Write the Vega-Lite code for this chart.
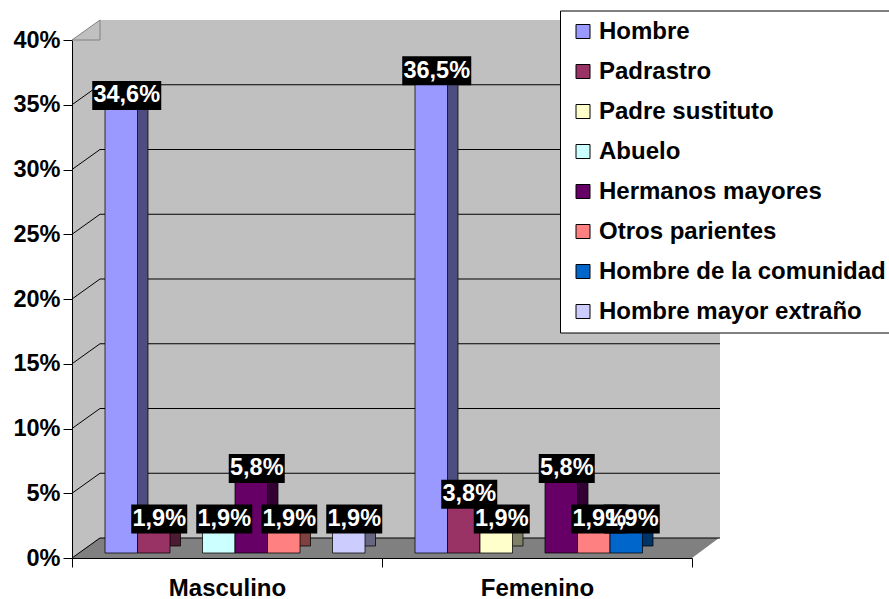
{
  "$schema": "https://vega.github.io/schema/vega-lite/v6.json",
  "width": 620,
  "height": 518,
  "autosize": {"type": "none"},
  "padding": {"left": 72, "top": 40, "right": 197, "bottom": 41},
  "background": "white",
  "config": {
    "view": {"fill": "#C0C0C0", "stroke": null},
    "locale": {"number": {"decimal": ",", "thousands": ".", "grouping": [3], "currency": ["", " €"]}},
    "axis": {"labelFont": "Liberation Sans", "labelFontWeight": "bold", "labelColor": "black", "labelFontSize": 23.5, "domainColor": "black", "tickColor": "black", "grid": false, "title": null, "zindex": 1}
  },
  "datasets": {
    "bars": [
      {"g": "Masculino", "s": "Hombre", "v": 0.346},
      {"g": "Masculino", "s": "Padrastro", "v": 0.019},
      {"g": "Masculino", "s": "Padre sustituto", "v": 0},
      {"g": "Masculino", "s": "Abuelo", "v": 0.019},
      {"g": "Masculino", "s": "Hermanos mayores", "v": 0.058},
      {"g": "Masculino", "s": "Otros parientes", "v": 0.019},
      {"g": "Masculino", "s": "Hombre de la comunidad", "v": 0},
      {"g": "Masculino", "s": "Hombre mayor extraño", "v": 0.019},
      {"g": "Femenino", "s": "Hombre", "v": 0.365},
      {"g": "Femenino", "s": "Padrastro", "v": 0.038},
      {"g": "Femenino", "s": "Padre sustituto", "v": 0.019},
      {"g": "Femenino", "s": "Abuelo", "v": 0},
      {"g": "Femenino", "s": "Hermanos mayores", "v": 0.058},
      {"g": "Femenino", "s": "Otros parientes", "v": 0.019},
      {"g": "Femenino", "s": "Hombre de la comunidad", "v": 0.019},
      {"g": "Femenino", "s": "Hombre mayor extraño", "v": 0}
    ],
    "grid": [
      {"g": "Masculino", "p": 0}, {"g": "Masculino", "p": 0.05}, {"g": "Masculino", "p": 0.1}, {"g": "Masculino", "p": 0.15}, {"g": "Masculino", "p": 0.2}, {"g": "Masculino", "p": 0.25}, {"g": "Masculino", "p": 0.3}, {"g": "Masculino", "p": 0.35},
      {"g": "Femenino", "p": 0}, {"g": "Femenino", "p": 0.05}, {"g": "Femenino", "p": 0.1}, {"g": "Femenino", "p": 0.15}, {"g": "Femenino", "p": 0.2}, {"g": "Femenino", "p": 0.25}, {"g": "Femenino", "p": 0.3}, {"g": "Femenino", "p": 0.35}
    ],
    "wall": [{"g": "Masculino", "a": 0, "b": 0.4}, {"g": "Femenino", "a": 0, "b": 0.4}]
  },
  "resolve": {"scale": {"xOffset": "independent", "color": "independent"}},
  "layer": [
    {
      "data": {"name": "wall"},
      "mark": {"type": "rect", "fill": "#C0C0C0", "strokeWidth": 0, "xOffset": 28, "x2Offset": 28, "yOffset": -20, "y2Offset": -20},
      "encoding": {
        "x": {"field": "g", "type": "nominal", "sort": ["Masculino", "Femenino"], "scale": {"paddingInner": 0, "paddingOuter": 0}, "axis": {"labelAngle": 0, "labelFontSize": 24, "tickSize": 9, "tickBand": "extent", "labelPadding": 9}},
        "y": {"field": "a", "type": "quantitative", "scale": {"domain": [0, 0.4]}, "axis": {"values": [0, 0.05, 0.1, 0.15, 0.2, 0.25, 0.3, 0.35, 0.4], "format": ".0%", "tickSize": 9, "labelPadding": 3}},
        "y2": {"field": "b"}
      }
    },
    {
      "data": {"name": "wall"},
      "transform": [{"filter": "datum.g == 'Masculino'"}],
      "mark": {"type": "point", "filled": true, "fill": "#C0C0C0", "stroke": "#808080", "opacity": 1, "strokeWidth": 1, "shape": "M0,0L1,-0.714L1,0Z", "size": 3136},
      "encoding": {
        "x": {"field": "g", "type": "nominal", "sort": ["Masculino", "Femenino"], "bandPosition": 0},
        "y": {"field": "b", "type": "quantitative"}
      }
    },
    {
      "data": {"name": "wall"},
      "transform": [{"filter": "datum.g == 'Masculino'"}],
      "mark": {"type": "point", "filled": true, "fill": "#808080", "opacity": 1, "strokeWidth": 0, "shape": "M0,0L2,0L2.0871,-0.0645L0.0871,-0.0645Z", "size": 384400},
      "encoding": {
        "x": {"field": "g", "type": "nominal", "sort": ["Masculino", "Femenino"], "bandPosition": 0},
        "y": {"field": "a", "type": "quantitative"}
      }
    },
    {
      "data": {"name": "grid"},
      "mark": {"type": "rect", "fill": "black", "strokeWidth": 0, "xOffset": 28, "x2Offset": 28, "yOffset": -20.5, "y2Offset": -19.5},
      "encoding": {
        "x": {"field": "g", "type": "nominal", "sort": ["Masculino", "Femenino"]},
        "y": {"field": "p", "type": "quantitative"},
        "y2": {"field": "p"}
      }
    },
    {
      "data": {"name": "grid"},
      "transform": [{"filter": "datum.g == 'Masculino'"}],
      "mark": {"type": "point", "filled": false, "stroke": "black", "opacity": 1, "strokeWidth": 1, "shape": "M0,0L1,-0.714", "size": 3136},
      "encoding": {
        "x": {"field": "g", "type": "nominal", "sort": ["Masculino", "Femenino"], "bandPosition": 0},
        "y": {"field": "p", "type": "quantitative"}
      }
    },
    {
      "data": {"name": "bars"},
      "transform": [{"filter": "datum.v > 0"}],
      "mark": {"type": "bar", "stroke": "black", "strokeWidth": 0.75, "yOffset": -12, "y2Offset": -12},
      "encoding": {
        "x": {"field": "g", "type": "nominal", "sort": ["Masculino", "Femenino"]},
        "xOffset": {"field": "s", "type": "nominal", "scale": {"domain": ["Hombre", "Padrastro", "Padre sustituto", "Abuelo", "Hermanos mayores", "Otros parientes", "Hombre de la comunidad", "Hombre mayor extraño"], "range": [43.5, 303.5]}},
        "y": {"field": "v", "type": "quantitative"},
        "color": {"field": "s", "type": "nominal", "scale": {"domain": ["Hombre", "Padrastro", "Padre sustituto", "Abuelo", "Hermanos mayores", "Otros parientes", "Hombre de la comunidad", "Hombre mayor extraño"], "range": ["#4D4D80", "#4D1A33", "#808066", "#668080", "#330033", "#804040", "#003366", "#666680"]}, "legend": null}
      }
    },
    {
      "data": {"name": "bars"},
      "transform": [{"filter": "datum.v > 0"}],
      "mark": {"type": "bar", "stroke": "black", "strokeWidth": 0.75, "yOffset": -5, "y2Offset": -5},
      "encoding": {
        "x": {"field": "g", "type": "nominal", "sort": ["Masculino", "Femenino"]},
        "xOffset": {"field": "s", "type": "nominal", "scale": {"domain": ["Hombre", "Padrastro", "Padre sustituto", "Abuelo", "Hermanos mayores", "Otros parientes", "Hombre de la comunidad", "Hombre mayor extraño"], "range": [33, 293]}},
        "y": {"field": "v", "type": "quantitative"},
        "color": {"field": "s", "type": "nominal", "scale": {"domain": ["Hombre", "Padrastro", "Padre sustituto", "Abuelo", "Hermanos mayores", "Otros parientes", "Hombre de la comunidad", "Hombre mayor extraño"], "range": ["#9999FF", "#993366", "#FFFFCC", "#CCFFFF", "#660066", "#FF8080", "#0066CC", "#CCCCFF"]},
          "legend": {"orient": "none", "legendX": 488, "legendY": -29.5, "title": null, "fillColor": "white", "strokeColor": "black", "padding": 9, "labelFont": "Liberation Sans", "labelFontWeight": "bold", "labelFontSize": 24, "labelColor": "black", "labelLimit": 400, "symbolType": "square", "symbolSize": 196, "symbolStrokeColor": "black", "symbolStrokeWidth": 1, "symbolOffset": 2, "labelOffset": 4, "rowPadding": 16}}
      }
    },
    {
      "data": {"name": "bars"},
      "transform": [{"filter": "datum.v > 0"}],
      "encoding": {
        "x": {"field": "g", "type": "nominal", "sort": ["Masculino", "Femenino"]},
        "xOffset": {"field": "s", "type": "nominal", "scale": {"domain": ["Hombre", "Padrastro", "Padre sustituto", "Abuelo", "Hermanos mayores", "Otros parientes", "Hombre de la comunidad", "Hombre mayor extraño"], "range": [38.5, 298.5]}},
        "y": {"field": "v", "type": "quantitative"}
      },
      "layer": [
        {
          "mark": {"type": "point", "filled": true, "color": "black", "opacity": 1, "strokeWidth": 0, "yOffset": -14.5},
          "encoding": {
            "shape": {"condition": {"test": "datum.v >= 0.1", "value": "M-1,-0.42L1,-0.42L1,0.42L-1,0.42Z"}, "value": "M-1,-0.518L1,-0.518L1,0.518L-1,0.518Z"},
            "size": {"condition": {"test": "datum.v >= 0.1", "value": 4761}, "value": 3136}
          }
        },
        {
          "mark": {"type": "text", "color": "white", "font": "Liberation Sans", "fontWeight": "bold", "fontSize": 23.5, "baseline": "middle", "align": "center", "yOffset": -14.5},
          "encoding": {
            "text": {"field": "v", "type": "quantitative", "format": ".1%"}
          }
        }
      ]
    }
  ]
}
